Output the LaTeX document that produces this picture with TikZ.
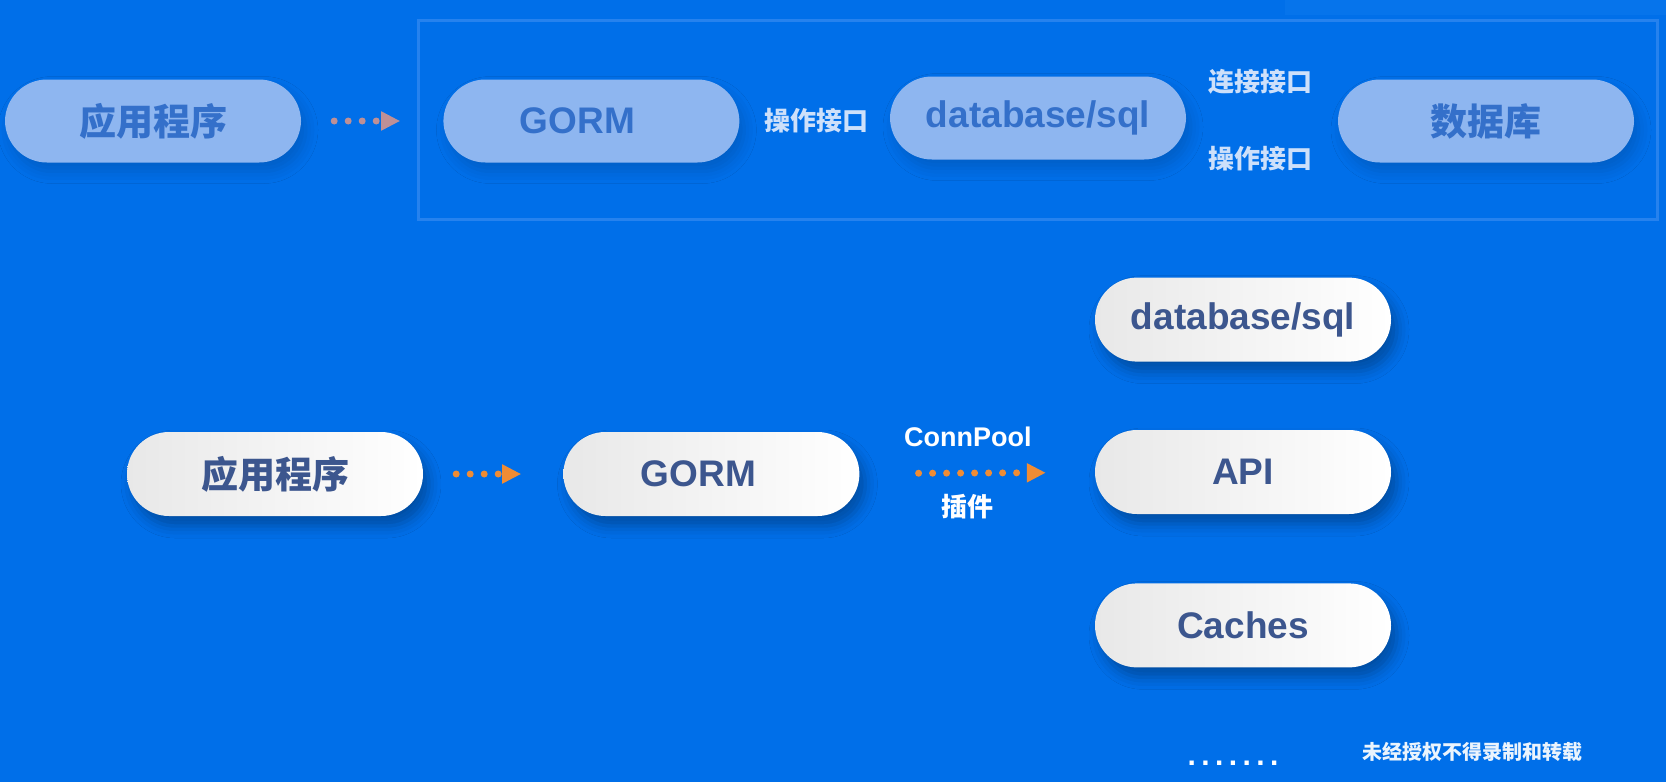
\documentclass[tikz,border=0pt]{standalone}
\usepackage{fontspec}
\setmainfont{Liberation Sans}
\newfontfamily\cjk{Noto Sans CJK SC}
\usetikzlibrary{positioning}
\usetikzlibrary{arrows.meta,shadows.blur}

\definecolor{bgblue}{RGB}{0,111,233}
\definecolor{bandblue}{RGB}{6,116,235}
\definecolor{framecol}{RGB}{38,130,238}
\definecolor{oldfill}{RGB}{142,182,240}
\definecolor{oldtext}{RGB}{52,112,202}
\definecolor{oldnote}{RGB}{205,224,250}
\definecolor{oldarrow}{RGB}{190,144,150}
\definecolor{pilltext}{RGB}{60,86,142}
\definecolor{orangearrow}{RGB}{240,140,52}

\begin{document}
\begin{tikzpicture}[x=1pt,y=-1pt,
  pill/.style={rounded corners=42pt, minimum width=296pt, minimum height=84pt,
    left color=black!9, right color=white, text=pilltext,
    font=\fontsize{37}{40}\selectfont\bfseries,
    blur shadow={shadow xshift=6pt, shadow yshift=-10pt, shadow blur radius=12pt, shadow opacity=30}},
  oldpill/.style={rounded corners=42pt, minimum width=296pt, minimum height=83pt,
    fill=oldfill, text=oldtext, font=\fontsize{37}{40}\selectfont\bfseries,
    blur shadow={shadow xshift=5pt, shadow yshift=-9pt, shadow blur radius=12pt, shadow opacity=15}},
  oldnote/.style={text=oldnote, font=\fontsize{26}{28}\selectfont\bfseries\cjk},
  note/.style={text=white, font=\fontsize{27}{30}\selectfont\bfseries},
  dotarrow/.style={line width=7pt, line cap=round, dash pattern=on 0pt off 14pt,
    -{Triangle[length=19pt,width=18pt]}}
]
 \fill[bgblue] (0,0) rectangle (1666,782);
 \useasboundingbox (0,0) rectangle (1666,782);
 \fill[bandblue] (1285,0) rectangle (1666,15);

 % top row, faded
 \draw[framecol,line width=3pt] (418,20) rectangle (1657,219);
 \node[oldpill] (app1) at (153,121) {\cjk 应用程序};
 \node[oldpill,right=142pt of app1] (gorm1) {GORM\kern28pt};
 \node[oldpill] (db1) at (1038,118) {database/sql};
 \node[oldpill] (dbs1) at (1486,121) {\cjk 数据库};
 \draw[dotarrow,oldarrow,shorten <=33pt,shorten >=43pt] (app1) -- (gorm1);
 \node[oldnote] (op1) at (816,121) {操作接口};
 \node[oldnote] (conn1) at (1260,82) {连接接口};
 \node[oldnote] (op2) at (1260,159) {操作接口};

 % bottom row
 \node[pill] (app2) at (275,474) {\cjk 应用程序};
 \node[pill,right=140pt of app2] (gorm2) {GORM\kern26pt};
 \node[pill] (api) at (1243,472) {API};
 \node[pill,above=68pt of api] (db2) {database/sql};
 \node[pill,below=69pt of api] (caches) {Caches};
 \draw[dotarrow,orangearrow,shorten <=33pt,shorten >=42pt] (app2) -- (gorm2);
 \draw[dotarrow,orangearrow,shorten <=59pt,shorten >=49pt] (gorm2) -- (api)
   node[note,pos=0.46,above=19pt] (pool) {ConnPool}
   node[note,pos=0.46,below=14pt,font=\fontsize{26}{28}\selectfont\bfseries\cjk] (plug) {插件};

 \node[text=white,anchor=base,font=\fontsize{30}{32}\selectfont\bfseries] (more) at (1233,765)
   {\addfontfeature{LetterSpace=18}.......};
 \node[text=white!92!bgblue,font=\fontsize{20}{22}\selectfont\bfseries\cjk] (mark) at (1472,752)
   {未经授权不得录制和转载};
\end{tikzpicture}
\end{document}
